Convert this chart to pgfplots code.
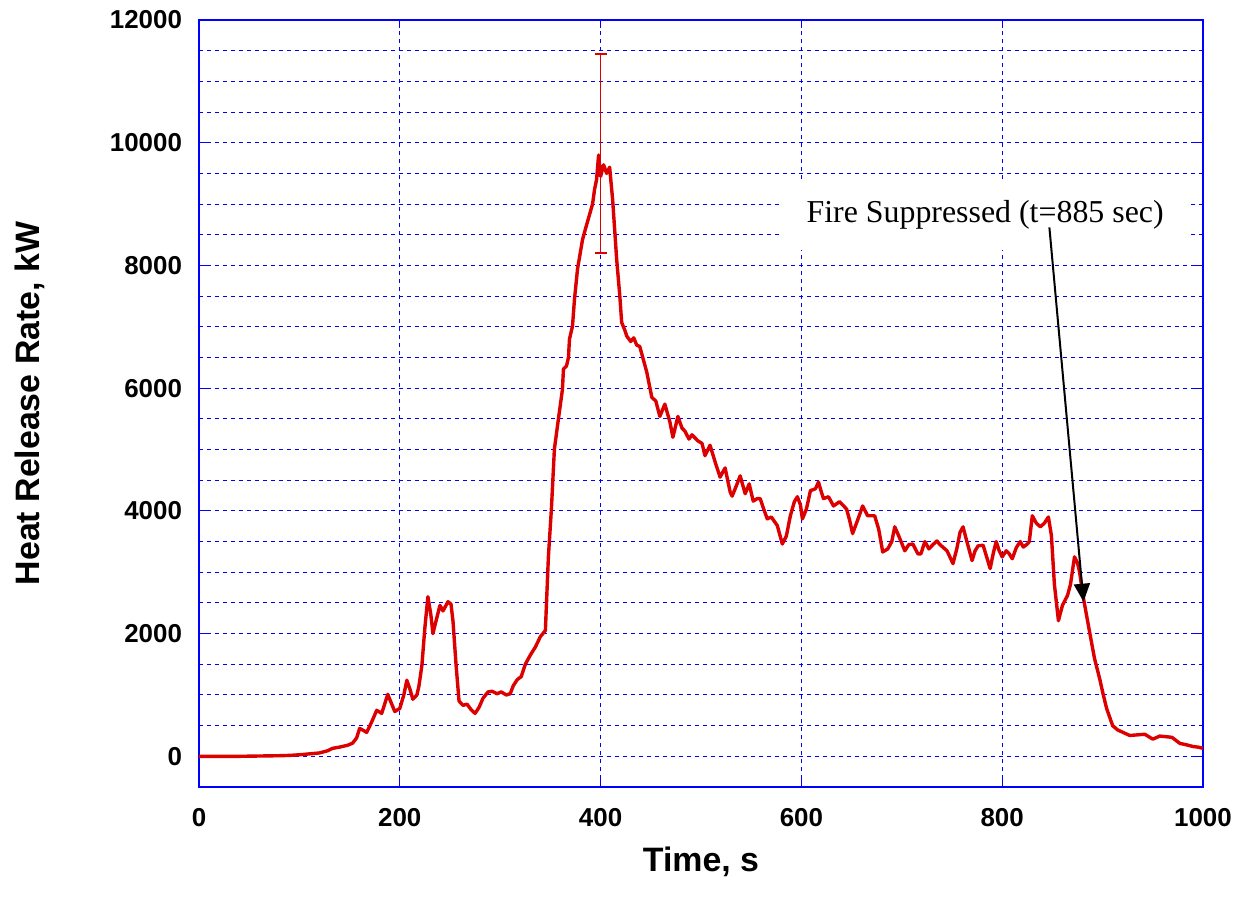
\documentclass[border=0pt]{standalone}
\usepackage{fontspec}
\setmainfont{Liberation Sans}
\newfontfamily\timesfont{Liberation Serif}
\usepackage{pgfplots}
\pgfplotsset{compat=1.18}
\usetikzlibrary{arrows.meta}
\definecolor{hrrred}{RGB}{220,0,0}
\definecolor{gridblue}{RGB}{0,0,255}

\begin{document}
\begin{tikzpicture}
\begin{axis}[
  scale only axis, width=502bp, height=383.5bp,
  xmin=0, xmax=1000, ymin=-500, ymax=12000,
  xtick={0,200,...,1000}, ytick={0,2000,...,12000},
  minor ytick={500,1000,...,11500},
  grid=both,
  major grid style={gridblue, dash pattern=on 2bp off 2bp, line width=0.5bp},
  minor grid style={gridblue, dash pattern=on 2bp off 2bp, line width=0.5bp},
  axis line style={gridblue, line width=0.6bp},
  tick style={gridblue, line width=0.6bp},
  major tick length=4bp, minor tick length=0pt,
  tick align=inside,
  scaled ticks=false,
  /pgf/number format/1000 sep={},
  /pgf/number format/assume math mode=true,
  tick label style={font=\fontsize{13}{15}\selectfont\bfseries},
  yticklabel style={xshift=-5bp},
  xticklabel style={yshift=-7bp},
  xlabel={Time, s},
  ylabel={Heat Release Rate, kW},
  every axis x label/.style={at={(rel axis cs:0.5,0)}, anchor=center, yshift=-37.5bp,
    font=\fontsize{17}{20}\selectfont\bfseries},
  every axis y label/.style={at={(rel axis cs:0,0.5)}, anchor=center, xshift=-84.5bp, rotate=90,
    font=\fontsize{17}{20}\selectfont\bfseries},
  clip=false,
]
% heat release rate trace
\addplot[hrrred, line width=1.7bp, line join=round] coordinates {
(0,0) (20,0) (40,0) (60,5) (80,10) (90,15) (100,25) (110,40) (120,55) (128,90)
(133,130) (140,150) (148,180) (153,215) (157,300) (160,455) (164,420) (167,390)
(172,560) (177,750) (182,700) (188,1010) (192,850) (195,730) (200,780) (204,1000)
(207,1240) (210,1100) (213,930) (217,1000) (219,1140) (222,1480) (225,2100)
(228,2600) (231,2300) (233,2000) (236,2200) (240,2460) (243,2370) (248,2520)
(251,2480) (253,2200) (256,1500) (259,900) (263,830) (267,850) (271,760) (275,700)
(279,800) (283,950) (288,1050) (292,1060) (297,1020) (301,1050) (306,1000)
(310,1020) (313,1150) (317,1250) (321,1300) (325,1500) (330,1650) (335,1780)
(340,1950) (345,2050) (348,3250) (351,4030) (354,5010) (358,5500) (362,5980)
(363,6310) (366,6360) (368,6500) (369,6800) (372,7010) (374,7450) (377,7940)
(382,8420) (385,8600) (389,8830) (392,9000) (394,9240) (396,9400) (398,9800)
(400,9450) (403,9640) (406,9500) (409,9600) (412,9070) (416,8100) (419,7530)
(421,7070) (424,6950) (426,6850) (430,6760) (433,6820) (436,6700) (439,6680)
(442,6500) (446,6260) (451,5850) (455,5790) (459,5540) (464,5740) (469,5450)
(472,5200) (477,5540) (481,5350) (484,5300) (488,5170) (491,5240) (497,5140)
(501,5100) (504,4900) (509,5070) (514,4800) (519,4550) (524,4700) (529,4310)
(531,4240) (535,4400) (539,4570) (544,4280) (548,4440) (552,4160) (556,4200)
(559,4200) (562,4050) (566,3870) (570,3900) (576,3760) (581,3460) (585,3590)
(589,3920) (593,4150) (596,4230) (599,4100) (601,3870) (605,4030) (609,4330)
(614,4360) (617,4470) (620,4300) (622,4200) (627,4230) (632,4080) (638,4150)
(645,4030) (648,3850) (651,3630) (656,3850) (661,4080) (666,3920) (673,3920)
(677,3700) (681,3330) (686,3380) (690,3500) (693,3740) (697,3590) (703,3350)
(707,3450) (711,3460) (716,3300) (719,3300) (723,3500) (727,3380) (731,3450)
(735,3510) (738,3450) (745,3350) (751,3140) (755,3400) (758,3650) (761,3740)
(764,3550) (770,3190) (773,3350) (776,3430) (781,3440) (788,3060) (791,3300)
(794,3500) (797,3350) (800,3250) (804,3350) (807,3300) (810,3220) (814,3400)
(818,3500) (821,3410) (825,3460) (827,3500) (830,3920) (834,3800) (838,3740)
(842,3800) (846,3900) (849,3600) (852,2800) (856,2210) (860,2460) (865,2620)
(868,2800) (872,3250) (875,3150) (877,3010) (881,2570) (884,2300) (887,2030)
(892,1590) (897,1270) (900,1050) (904,780) (910,500) (915,430) (919,400)
(927,340) (935,350) (942,360) (946,320) (950,280) (957,330) (963,320) (969,310)
(973,260) (977,210) (983,190) (990,160) (995,150) (1000,130)
};
% uncertainty bar at the peak
\addplot[hrrred, line width=0.8bp, mark=none,
  error bars/.cd, y dir=both, y explicit,
  error bar style={line width=0.8bp, hrrred},
  error mark options={rotate=90, mark size=3bp, hrrred, line width=0.8bp}]
  coordinates {(400,9825) +- (0,1625)};
\node[fill=white, inner sep=0pt, minimum width=204bp, minimum height=35bp,
  font=\timesfont\fontsize{16}{19}\selectfont] at (axis cs:783,8830)
  {Fire Suppressed (t=885 sec)};
\draw[-{Triangle[width=8bp,length=9bp]}, line width=1bp] (axis cs:847,8620) -- (axis cs:881,2520);
\end{axis}
\pgfresetboundingbox
\path[use as bounding box] ([shift={(-99.5bp,-62bp)}]current axis.south west)
  rectangle ([shift={(21.5bp,10bp)}]current axis.north east);
\end{tikzpicture}
\end{document}
